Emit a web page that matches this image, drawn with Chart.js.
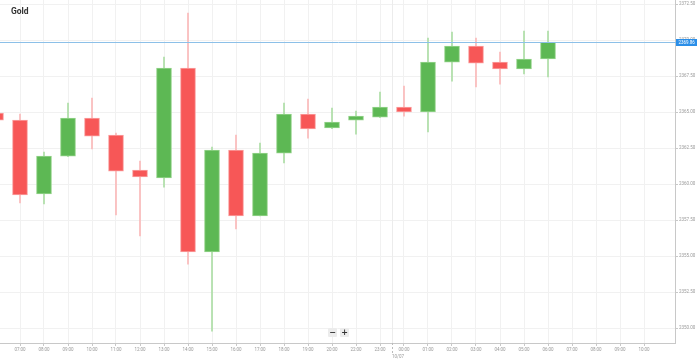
<!DOCTYPE html>
<html>
<head>
<meta charset="utf-8">
<script src="https://cdn.jsdelivr.net/npm/chart.js@4/dist/chart.umd.min.js"></script>
<style>
  html, body { margin: 0; padding: 0; background: #fff; }
  #wrap { position: relative; width: 699px; height: 362px; overflow: hidden; }
  canvas { position: absolute; left: 0; top: 0; }
  #title { position: absolute; left: 11px; top: 6px; font: bold 8.5px Roboto, "Open Sans", sans-serif; color: #333; }
  .zbtn { position: absolute; top: 328px; width: 9px; height: 9px; background: #ececec; color: #333;
          font: bold 8px "DejaVu Sans", sans-serif; line-height: 9px; text-align: center; border-radius: 1px; }
</style>
</head>
<body>
<div id="wrap">
  <canvas id="c" width="699" height="362"></canvas>
  <div id="title">Gold</div>
  <div class="zbtn" style="left:328px">−</div>
  <div class="zbtn" style="left:340px">+</div>
</div>
<script>
// Hourly categories (21:00 is the daily market break, not present)
const hours = ['06:00','07:00','08:00','09:00','10:00','11:00','12:00','13:00','14:00','15:00',
               '16:00','17:00','18:00','19:00','20:00','22:00','23:00','00:00','01:00','02:00',
               '03:00','04:00','05:00','06:00','07:00','08:00','09:00','10:00','11:00'];
const openV  = [2364.93,2364.44,2359.31,2361.94,2364.58,2363.40,2360.97,2360.42,2368.06,2355.28,
                2362.36,2357.78,2362.15,2364.86,2363.89,2364.44,2364.65,2365.35,2365.00,2368.47,
                2369.58,2368.47,2367.99,2368.68];
const highV  = [2365.20,2364.86,2362.22,2365.63,2365.97,2363.54,2361.60,2368.82,2371.88,2362.57,
                2363.40,2362.85,2365.63,2365.90,2365.28,2365.07,2366.39,2366.81,2370.14,2370.56,
                2370.14,2369.17,2370.63,2370.63];
const lowV   = [2364.30,2358.68,2358.61,2361.90,2362.43,2357.85,2356.39,2359.79,2354.44,2349.79,
                2356.88,2357.78,2361.46,2363.19,2363.85,2363.47,2364.60,2364.72,2363.61,2367.15,
                2366.74,2366.94,2367.64,2367.43];
const closeV = [2364.44,2359.24,2361.94,2364.58,2363.33,2360.90,2360.49,2368.06,2355.28,2362.36,
                2357.78,2362.15,2364.86,2363.82,2364.31,2364.72,2365.35,2365.00,2368.47,2369.58,
                2368.40,2367.99,2368.68,2369.86];
const yTicks = [2350.00,2352.50,2355.00,2357.50,2360.00,2362.50,2365.00,2367.50,2370.00,2372.50];
const currentPrice = 2369.86;
const dayLabel = '10/07';
const dayBreakIndex = 16.5; // between 23:00 and 00:00

const UP = 'rgb(93,184,84)', DOWN = 'rgb(247,87,87)';
const UP_B = 'rgb(150,212,140)', DOWN_B = 'rgb(250,160,160)';
const UP_W = 'rgb(172,222,165)', DOWN_W = 'rgb(250,185,185)';

const isUp = openV.map((o, i) => closeV[i] >= o);
const bodies = openV.map((o, i) => ({ x: i, y: [o, closeV[i]] }));
const wicks = openV.map((o, i) => ({ x: i, y: [lowV[i], highV[i]] }));

function noPad(s) { s.paddingTop = 0; s.paddingBottom = 0; s.paddingLeft = 0; s.paddingRight = 0; }

const overlay = {
  id: 'overlay',
  beforeDatasetsDraw(chart) {
    const { ctx, chartArea: a, scales: { x } } = chart;
    const px = Math.round(x.getPixelForValue(dayBreakIndex)) + 0.5;
    ctx.save();
    ctx.strokeStyle = '#ececec';
    ctx.lineWidth = 1;
    ctx.beginPath(); ctx.moveTo(px, a.top); ctx.lineTo(px, a.bottom); ctx.stroke();
    ctx.restore();
  },
  afterDraw(chart) {
    const { ctx, chartArea: a, scales: { x, y } } = chart;
    ctx.save();
    const px = Math.round(x.getPixelForValue(dayBreakIndex)) + 0.5;
    ctx.strokeStyle = '#bbb';
    ctx.setLineDash([2, 2]);
    ctx.beginPath(); ctx.moveTo(px, a.bottom); ctx.lineTo(px, a.bottom + 10); ctx.stroke();
    ctx.setLineDash([]);
    ctx.fillStyle = '#999';
    ctx.font = '4.5px Roboto';
    ctx.textAlign = 'center';
    ctx.textBaseline = 'middle';
    ctx.fillText(dayLabel, x.getPixelForValue(dayBreakIndex + 0.25), a.bottom + 14);
    const py = Math.round(y.getPixelForValue(currentPrice)) + 0.5;
    ctx.strokeStyle = 'rgb(140,192,232)';
    ctx.lineWidth = 1;
    ctx.beginPath(); ctx.moveTo(a.left, py); ctx.lineTo(a.right + 2, py); ctx.stroke();
    ctx.fillStyle = 'rgb(42,142,232)';
    ctx.fillRect(a.right + 1, py - 3.5, 21, 7);
    ctx.fillStyle = '#fff';
    ctx.textAlign = 'left';
    ctx.fillText(currentPrice.toFixed(2), a.right + 3.5, py);
    ctx.restore();
  }
};

new Chart(document.getElementById('c'), {
  type: 'bar',
  data: {
    datasets: [
      {
        data: bodies,
        backgroundColor: isUp.map(u => u ? UP : DOWN),
        borderColor: isUp.map(u => u ? UP_B : DOWN_B),
        borderWidth: 1,
        borderSkipped: false,
        barThickness: 15,
        grouped: false,
        minBarLength: 1
      },
      {
        data: wicks,
        backgroundColor: isUp.map(u => u ? UP_W : DOWN_W),
        borderWidth: 0,
        barThickness: 1,
        grouped: false
      }
    ]
  },
  options: {
    responsive: false,
    devicePixelRatio: 1,
    animation: false,
    layout: { padding: 0 },
    plugins: { legend: { display: false }, tooltip: { enabled: false } },
    scales: {
      x: {
        type: 'linear',
        offset: false,
        min: 4 / 24,
        max: 679 / 24,
        afterBuildTicks(s) {
          s.ticks = hours.map((h, i) => ({ value: i })).filter(t => t.value >= 1 && t.value <= 27);
        },
        afterFit(s) { s.height = 19; noPad(s); },
        ticks: {
          autoSkip: false,
          maxRotation: 0,
          padding: 1,
          color: '#999',
          font: { family: 'Roboto', size: 4.5 },
          callback: (v) => hours[v]
        },
        grid: { offset: false, color: '#f1f1f1', tickColor: '#c8c8c8', tickLength: 3 },
        border: { color: '#c8c8c8' }
      },
      y: {
        position: 'right',
        min: 2348.96,
        max: 2372.78,
        afterBuildTicks(s) { s.ticks = yTicks.map(v => ({ value: v })); },
        afterFit(s) { s.width = 24; noPad(s); },
        ticks: {
          padding: 1,
          color: '#999',
          font: { family: 'Roboto', size: 4.5 },
          callback: (v) => Number(v).toFixed(2)
        },
        grid: { color: '#f1f1f1', tickColor: '#c8c8c8', tickLength: 3 },
        border: { color: '#c8c8c8' }
      }
    }
  },
  plugins: [overlay]
});
</script>
</body>
</html>
